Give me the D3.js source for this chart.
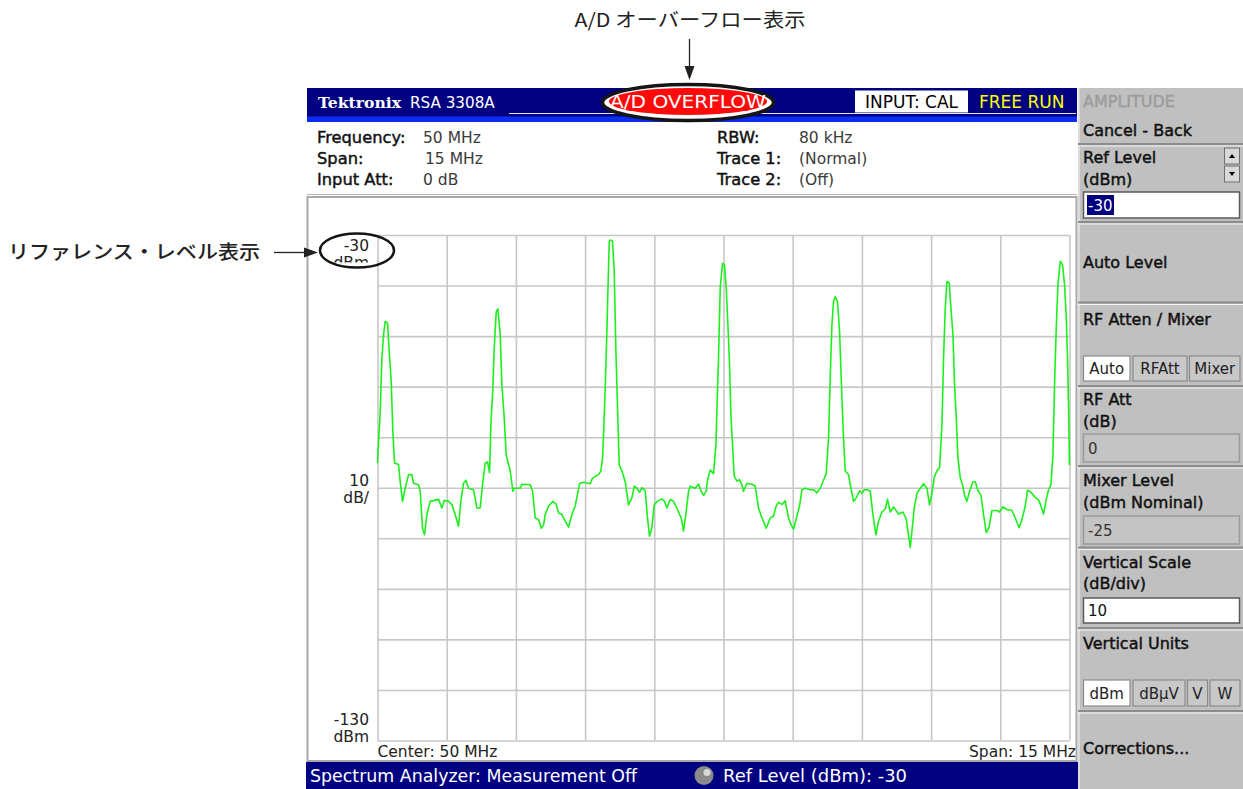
<!DOCTYPE html>
<meta charset="utf-8">
<head>
<script src="https://cdn.jsdelivr.net/npm/d3@7"></script>
<style>
  body { margin: 0; background: #fff; }
  svg text { font-family: "DejaVu Sans", sans-serif; }
  .semi { stroke-width: 0.45px; paint-order: stroke; }
  .jp { font-family: "Noto Sans CJK JP", sans-serif; }
</style>
</head>
<body>
<div id="screen"></div>
<script>
// trace 1: frequency (MHz) and level (dBm)
const freqMHz = [
  42.50, 42.522, 42.559, 42.595, 42.631, 42.667, 42.717, 42.754, 42.797, 42.833, 42.869, 42.956,
  42.992, 43.043, 43.100, 43.173, 43.245, 43.281, 43.389, 43.426, 43.476, 43.520, 43.570, 43.642,
  43.823, 43.895, 43.946, 44.040, 44.112, 44.184, 44.257, 44.307, 44.365, 44.416, 44.473, 44.582,
  44.654, 44.726, 44.777, 44.835, 44.885, 44.929, 44.958, 45.001, 45.030, 45.073, 45.109, 45.160,
  45.196, 45.247, 45.290, 45.341, 45.377, 45.435, 45.463, 45.594, 45.630, 45.810, 45.861, 45.919,
  45.991, 46.049, 46.099, 46.135, 46.208, 46.302, 46.374, 46.424, 46.497, 46.569, 46.641, 46.714,
  46.786, 46.880, 46.966, 47.111, 47.161, 47.292, 47.342, 47.378, 47.400, 47.436, 47.472, 47.494,
  47.523, 47.545, 47.594, 47.631, 47.668, 47.703, 47.740, 47.798, 47.870, 47.941, 48.015, 48.065,
  48.123, 48.180, 48.232, 48.303, 48.353, 48.396, 48.448, 48.498, 48.557, 48.665, 48.722, 48.774,
  48.845, 48.917, 49.003, 49.084, 49.133, 49.192, 49.242, 49.279, 49.387, 49.459, 49.517, 49.567,
  49.626, 49.654, 49.712, 49.784, 49.836, 49.858, 49.892, 49.929, 49.979, 50.022, 50.059, 50.096,
  50.131, 50.161, 50.204, 50.233, 50.291, 50.347, 50.399, 50.434, 50.508, 50.616, 50.688, 50.759,
  50.818, 50.926, 51.013, 51.084, 51.143, 51.193, 51.267, 51.338, 51.410, 51.462, 51.518, 51.592,
  51.648, 51.700, 51.772, 51.880, 51.952, 52.025, 52.097, 52.155, 52.227, 52.277, 52.314, 52.350,
  52.385, 52.422, 52.472, 52.515, 52.567, 52.602, 52.639, 52.710, 52.762, 52.819, 52.877, 52.949,
  53.001, 53.051, 53.122, 53.181, 53.239, 53.304, 53.361, 53.434, 53.506, 53.556, 53.614, 53.686,
  53.794, 53.890, 53.961, 54.011, 54.048, 54.085, 54.135, 54.193, 54.265, 54.336, 54.410, 54.466,
  54.518, 54.568, 54.627, 54.683, 54.735, 54.770, 54.807, 54.843, 54.893, 54.930, 54.974, 55.008,
  55.045, 55.082, 55.132, 55.182, 55.225, 55.277, 55.333, 55.407, 55.457, 55.516, 55.581, 55.637,
  55.695, 55.754, 55.819, 55.927, 55.984, 56.057, 56.144, 56.253, 56.324, 56.411, 56.469, 56.541,
  56.591, 56.664, 56.758, 56.829, 56.881, 56.938, 56.996, 57.046, 57.098, 57.141, 57.176, 57.213,
  57.250, 57.300, 57.349, 57.393, 57.430, 57.458, 57.480, 57.500
];
const levelDbm = [
  -75.1, -71.2, -64.9, -54.4, -49.8, -47.1, -47.4, -53.1, -59.0, -68.9, -75.1, -75.4,
  -78.8, -82.7, -80.1, -77.4, -77.4, -79.1, -79.4, -80.7, -88.0, -89.3, -85.3, -82.7,
  -82.3, -84.0, -82.5, -82.7, -83.3, -85.3, -87.6, -82.7, -79.1, -78.5, -80.1, -80.4,
  -84.0, -84.0, -79.4, -75.1, -74.9, -77.0, -67.5, -60.3, -52.4, -45.2, -44.6, -49.8,
  -59.6, -66.2, -73.5, -75.4, -76.7, -80.7, -80.1, -80.1, -79.3, -79.4, -80.7, -86.0,
  -86.3, -88.0, -87.4, -85.3, -83.6, -82.7, -83.3, -85.0, -85.3, -86.6, -87.8, -85.3,
  -83.6, -79.2, -78.9, -79.2, -78.1, -77.4, -76.7, -74.1, -69.5, -60.3, -49.1, -41.2,
  -31.3, -31.0, -31.2, -37.2, -53.1, -64.3, -75.5, -76.7, -78.8, -83.4, -82.0, -79.7,
  -80.1, -80.9, -80.0, -80.5, -86.0, -89.6, -87.9, -83.4, -82.7, -82.2, -82.7, -84.0,
  -82.3, -82.7, -84.3, -86.0, -88.6, -84.7, -80.7, -79.7, -80.1, -79.3, -80.7, -81.5,
  -80.7, -78.5, -76.5, -77.2, -71.5, -64.3, -54.4, -40.5, -35.6, -35.9, -40.5, -47.8,
  -55.7, -65.6, -72.8, -77.7, -78.7, -78.4, -79.4, -80.7, -79.1, -79.3, -79.7, -84.0,
  -85.6, -88.0, -86.0, -85.6, -83.6, -82.9, -83.3, -82.6, -86.0, -87.3, -88.2, -85.6,
  -83.6, -80.4, -80.1, -80.4, -80.4, -81.0, -80.1, -78.8, -77.2, -70.2, -58.0, -47.8,
  -43.2, -42.2, -43.2, -48.9, -62.3, -70.2, -76.7, -77.4, -80.1, -82.7, -82.0, -80.6,
  -81.1, -80.4, -80.4, -80.7, -85.3, -89.3, -86.6, -84.8, -84.2, -82.3, -84.8, -83.8,
  -85.2, -84.8, -86.2, -89.5, -91.8, -88.6, -84.0, -81.1, -80.1, -79.2, -80.1, -83.4,
  -81.1, -78.0, -76.6, -76.1, -67.7, -54.4, -44.5, -39.2, -39.5, -44.5, -49.8, -59.6,
  -66.2, -74.1, -78.0, -79.4, -81.5, -82.7, -80.7, -78.8, -78.8, -80.6, -81.5, -85.3,
  -88.9, -87.9, -84.5, -84.5, -84.8, -83.8, -84.3, -84.5, -86.0, -87.9, -86.3, -83.6,
  -80.5, -80.9, -81.9, -82.4, -83.6, -85.2, -82.3, -80.4, -79.4, -73.5, -59.6, -48.3,
  -39.8, -35.2, -35.9, -39.8, -46.4, -54.4, -64.3, -75.5
];

const centerMHz = 50, spanMHz = 15, refLevel = -30, dbPerDiv = 10, divisions = 10;

const infoLabels = ["Frequency:", "Span:", "Input Att:"];
const infoValues = ["50 MHz", "15 MHz", "0 dB"];
const infoLabels2 = ["RBW:", "Trace 1:", "Trace 2:"];
const infoValues2 = ["80 kHz", "(Normal)", "(Off)"];
const attenModes = ["Auto", "RFAtt", "Mixer"];
const unitModes = ["dBm", "dBμV", "V", "W"];

const W = 1243, H = 789;
const navy = "#000080";

const svg = d3.select("#screen").append("svg")
    .attr("width", W)
    .attr("height", H)
    .style("display", "block");

svg.append("rect").attr("width", W).attr("height", H).attr("fill", "#fff");

// ---------- title bar
svg.append("rect").attr("x", 307).attr("y", 88).attr("width", 770).attr("height", 29).attr("fill", navy);
svg.append("line").attr("x1", 509).attr("x2", 1076).attr("y1", 113.5).attr("y2", 113.5)
    .attr("stroke", "#dfe3ff").attr("stroke-width", 1);
svg.append("rect").attr("x", 307).attr("y", 116.5).attr("width", 770).attr("height", 5.5).attr("fill", "#0a2ef0");

svg.append("text").attr("x", 318).attr("y", 107.5)
    .style("font-family", "'DejaVu Serif', serif").style("font-weight", "bold").style("font-size", "15px")
    .attr("fill", "#fff").attr("textLength", 83).attr("lengthAdjust", "spacingAndGlyphs")
    .text("Tektronix");
svg.append("text").attr("x", 410).attr("y", 107.5)
    .style("font-size", "15.2px").attr("fill", "#fff").text("RSA 3308A");

// overflow flag with the callout ellipse drawn round it
svg.append("ellipse").attr("cx", 688).attr("cy", 102.5).attr("rx", 85.5).attr("ry", 18)
    .attr("fill", "#fff").attr("stroke", "#151515").attr("stroke-width", 3.5);
svg.append("ellipse").attr("cx", 688).attr("cy", 101.5).attr("rx", 79).attr("ry", 13.5).attr("fill", "#ff0a0a");
svg.append("text").attr("x", 688).attr("y", 108).attr("text-anchor", "middle")
    .style("font-size", "17.5px").attr("fill", "#fff")
    .attr("textLength", 156).attr("lengthAdjust", "spacingAndGlyphs")
    .text("A/D OVERFLOW");

svg.append("rect").attr("x", 855).attr("y", 90.5).attr("width", 113).attr("height", 22).attr("fill", "#fff");
svg.append("text").attr("x", 911.5).attr("y", 108).attr("text-anchor", "middle")
    .style("font-size", "17px").attr("fill", "#000").text("INPUT: CAL");
svg.append("text").attr("x", 979).attr("y", 108)
    .style("font-size", "17px").attr("fill", "#ffff00").text("FREE RUN");

// ---------- settings readout
const info = svg.append("g");
function readout(labels, values, lx, vx) {
    labels.forEach((t, i) => {
        info.append("text").attr("class", "semi").attr("x", lx).attr("y", 143 + i * 21)
            .style("font-size", "16.3px").attr("fill", "#111").attr("stroke", "#111").text(t);
        info.append("text").attr("x", vx[i]).attr("y", 143 + i * 21)
            .style("font-size", "15.5px").attr("fill", "#3a3a3a").text(values[i]);
    });
}
readout(infoLabels, infoValues, 317, [423, 425, 423]);
readout(infoLabels2, infoValues2, 717, [799, 799, 799]);

// ---------- plot frame
svg.append("line").attr("x1", 307).attr("x2", 1077).attr("y1", 194.5).attr("y2", 194.5)
    .attr("stroke", "#b4b4b4").attr("stroke-width", 1);
svg.append("rect").attr("x", 307.5).attr("y", 197).attr("width", 769).attr("height", 564)
    .attr("fill", "#fff").attr("stroke", "#a8a8a8").attr("stroke-width", 2);

const x = d3.scaleLinear()
    .domain([centerMHz - spanMHz / 2, centerMHz + spanMHz / 2])
    .range([377.5, 1069.5]);
const y = d3.scaleLinear()
    .domain([refLevel - divisions * dbPerDiv, refLevel])
    .range([740.5, 235]);

const xTicks = d3.range(divisions + 1).map(i => x.domain()[0] + i * spanMHz / divisions);
const yTicks = d3.range(divisions + 1).map(i => y.domain()[0] + i * dbPerDiv);

const gridX = svg.append("g")
    .attr("transform", `translate(0, ${y.range()[0]})`)
    .call(d3.axisBottom(x).tickValues(xTicks).tickSize(-(y.range()[0] - y.range()[1])).tickFormat(""));
const gridY = svg.append("g")
    .attr("transform", `translate(${x.range()[0]}, 0)`)
    .call(d3.axisLeft(y).tickValues(yTicks).tickSize(-(x.range()[1] - x.range()[0])).tickFormat(""));
[gridX, gridY].forEach(g => {
    g.select(".domain").remove();
    g.selectAll(".tick line").attr("stroke", "#c8c8c8").attr("stroke-width", 1.6);
});

const trace = freqMHz.map((f, i) => [f, levelDbm[i]]);
svg.append("path")
    .datum(trace)
    .attr("fill", "none")
    .attr("stroke", "#1cf01c")
    .attr("stroke-width", 1.6)
    .attr("stroke-linejoin", "round")
    .attr("d", d3.line().x(d => x(d[0])).y(d => y(d[1])));

// scale labels
const lab = svg.append("g").attr("text-anchor", "end").style("font-size", "15.5px").attr("fill", "#222");
lab.append("text").attr("x", 369).attr("y", y(refLevel) + 15.5).text(refLevel);
svg.append("clipPath").attr("id", "refclip").append("rect")
    .attr("x", 330).attr("y", 250).attr("width", 60).attr("height", 12.5);
lab.append("text").attr("x", 369).attr("y", y(refLevel) + 33).attr("clip-path", "url(#refclip)").text("dBm");
lab.append("text").attr("x", 369).attr("y", y(-80) - 2).text(dbPerDiv);
lab.append("text").attr("x", 369).attr("y", y(-80) + 15).text("dB/");
lab.append("text").attr("x", 369).attr("y", y(y.domain()[0]) - 16).text(y.domain()[0]);
lab.append("text").attr("x", 369).attr("y", y(y.domain()[0]) + 1).text("dBm");

svg.append("text").attr("x", x.range()[0]).attr("y", 757)
    .style("font-size", "15.5px").attr("fill", "#222").text(`Center: ${centerMHz} MHz`);
svg.append("text").attr("x", 1076).attr("y", 757).attr("text-anchor", "end")
    .style("font-size", "15.5px").attr("fill", "#222").text(`Span: ${spanMHz} MHz`);

// ---------- status bar
svg.append("rect").attr("x", 306).attr("y", 762).attr("width", 772).attr("height", 27).attr("fill", navy);
svg.append("text").attr("x", 310).attr("y", 782)
    .style("font-size", "17.3px").attr("fill", "#fff")
    .attr("textLength", 327).attr("lengthAdjust", "spacingAndGlyphs")
    .text("Spectrum Analyzer: Measurement Off");
svg.append("circle").attr("cx", 704).attr("cy", 775.5).attr("r", 9.5).attr("fill", "#8a8a8a");
svg.append("circle").attr("cx", 707).attr("cy", 772.5).attr("r", 3.5).attr("fill", "#d8d8d8");
svg.append("text").attr("x", 723).attr("y", 782)
    .style("font-size", "17.3px").attr("fill", "#fff")
    .attr("textLength", 184).attr("lengthAdjust", "spacingAndGlyphs")
    .text(`Ref Level (dBm): ${refLevel}`);

// ---------- softkey panel
const px = 1078;
const panel = svg.append("g");
panel.append("rect").attr("x", px).attr("y", 88).attr("width", W - px).attr("height", H - 88).attr("fill", "#c0c0c0");
panel.append("line").attr("x1", px + 1).attr("x2", px + 1).attr("y1", 88).attr("y2", H)
    .attr("stroke", "#e6e6e6").attr("stroke-width", 1.5);

[144, 222, 302.5, 386, 466, 547.5, 628, 711].forEach(yy => {
    panel.append("line").attr("x1", px).attr("x2", W).attr("y1", yy).attr("y2", yy)
        .attr("stroke", "#8c8c8c").attr("stroke-width", 2);
    panel.append("line").attr("x1", px).attr("x2", W).attr("y1", yy + 2).attr("y2", yy + 2)
        .attr("stroke", "#f4f4f4").attr("stroke-width", 1);
});

function title(t, yy, color) {
    panel.append("text").attr("class", "semi").attr("x", 1083).attr("y", yy)
        .style("font-size", "16px").attr("fill", color || "#111").attr("stroke", color || "#111").text(t);
}
title("AMPLITUDE", 107, "#9c9c9c");
title("Cancel - Back", 136);
title("Ref Level", 163);
title("(dBm)", 185);
title("Auto Level", 268);
title("RF Atten / Mixer", 325);
title("RF Att", 405);
title("(dB)", 427);
title("Mixer Level", 486);
title("(dBm Nominal)", 508);
title("Vertical Scale", 568);
title("(dB/div)", 589);
title("Vertical Units", 649);
title("Corrections...", 754);

// spin buttons next to Ref Level
[[148, "M0,4 L3,0 L6,4 Z"], [166, "M0,0 L3,4 L6,0 Z"]].forEach(([yy, tri]) => {
    panel.append("rect").attr("x", 1224.5).attr("y", yy).attr("width", 15).attr("height", 16)
        .attr("fill", "#d8d8d8").attr("stroke", "#6e6e6e").attr("stroke-width", 1);
    panel.append("path").attr("d", tri).attr("transform", `translate(1229, ${yy + 6})`).attr("fill", "#000");
});

function field(yy, h, value, enabled, selected) {
    panel.append("rect").attr("x", 1083.5).attr("y", yy).attr("width", 156).attr("height", h)
        .attr("fill", enabled ? "#fff" : "#c4c4c4")
        .attr("stroke", enabled ? "#5a5a5a" : "#9a9a9a").attr("stroke-width", 1.5);
    if (selected) {
        panel.append("rect").attr("x", 1087).attr("y", yy + 3).attr("width", 27).attr("height", h - 6).attr("fill", navy);
    }
    panel.append("text").attr("x", 1088).attr("y", yy + h / 2 + 5.5)
        .style("font-size", "15px").attr("fill", selected ? "#fff" : (enabled ? "#111" : "#333")).text(value);
}
field(192, 26, refLevel, true, true);
field(434, 28, "0", false, false);
field(516, 28, "-25", false, false);
field(598, 25, dbPerDiv, true, false);

function buttonRow(labels, xs, yy, h) {
    labels.forEach((t, i) => {
        panel.append("rect").attr("x", xs[i][0]).attr("y", yy).attr("width", xs[i][1] - xs[i][0]).attr("height", h)
            .attr("fill", i === 0 ? "#fff" : "#c8c8c8").attr("stroke", "#8a8a8a").attr("stroke-width", 1.2);
        panel.append("text").attr("x", (xs[i][0] + xs[i][1]) / 2).attr("y", yy + h / 2 + 5.5)
            .attr("text-anchor", "middle").style("font-size", "15px").attr("fill", "#222").text(t);
    });
}
buttonRow(attenModes, [[1083.5, 1130], [1133, 1187], [1189.5, 1240]], 356, 25);
buttonRow(unitModes, [[1083.5, 1130], [1133, 1185], [1187.5, 1207.5], [1210, 1240]], 680, 26);

// ---------- manual call-outs (Japanese)
const notes = svg.append("g").attr("fill", "#222");
notes.append("text").attr("class", "jp").attr("x", 690).attr("y", 27).attr("text-anchor", "middle")
    .style("font-size", "19px").attr("textLength", 231).attr("lengthAdjust", "spacingAndGlyphs")
    .text("A/D オーバーフロー表示");
notes.append("line").attr("x1", 689.5).attr("x2", 689.5).attr("y1", 39).attr("y2", 68)
    .attr("stroke", "#222").attr("stroke-width", 1.3);
notes.append("path").attr("d", "M684.5,66 L694.5,66 L689.5,80 Z");

notes.append("text").attr("class", "jp").attr("x", 8).attr("y", 259)
    .style("font-size", "19px").style("font-weight", "500").attr("textLength", 252).attr("lengthAdjust", "spacingAndGlyphs")
    .text("リファレンス・レベル表示");
notes.append("line").attr("x1", 274).attr("x2", 306).attr("y1", 252.5).attr("y2", 252.5)
    .attr("stroke", "#222").attr("stroke-width", 1.3);
notes.append("path").attr("d", "M304,247.5 L304,257.5 L318,252.5 Z");

svg.append("ellipse").attr("cx", 357).attr("cy", 250.5).attr("rx", 37).attr("ry", 17)
    .attr("fill", "none").attr("stroke", "#151515").attr("stroke-width", 2.5);
</script>
</body>
